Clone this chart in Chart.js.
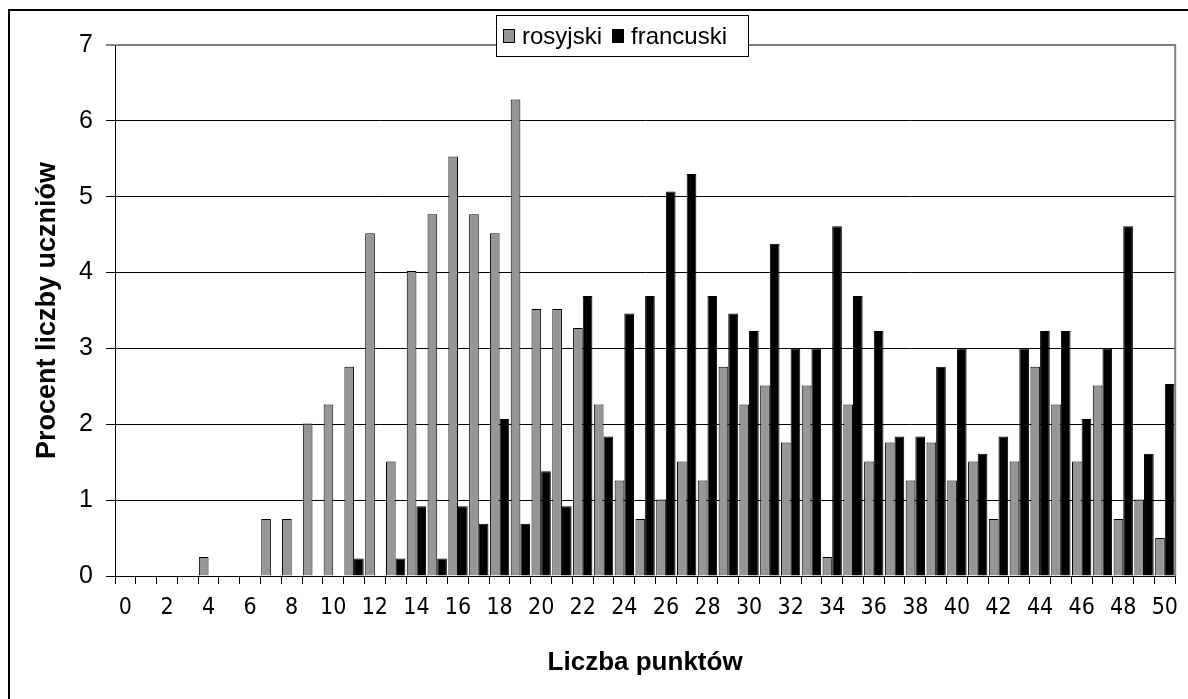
<!DOCTYPE html>
<html>
<head>
<meta charset="utf-8">
<script src="https://cdn.jsdelivr.net/npm/chart.js@4/dist/chart.umd.min.js"></script>
<style>
  html, body { margin: 0; padding: 0; background: #fff; }
  #wrap { width: 1188px; height: 699px; position: relative; }
</style>
</head>
<body>
<div id="wrap"><canvas id="chart" width="1188" height="699"></canvas></div>
<script>
"use strict";

// categories: liczba punktów 0..50
var points = [];
for (var p = 0; p <= 50; p++) points.push(String(p));

var seriesNames = ['rosyjski', 'francuski'];

var rosyjski = [0, 0, 0, 0, 0.25, 0, 0, 0.75, 0.75, 2.01,
  2.26, 2.76, 4.52, 1.51, 4.02, 4.77, 5.53, 4.77, 4.52, 6.28,
  3.52, 3.52, 3.27, 2.26, 1.26, 0.75, 1.01, 1.51, 1.26, 2.76,
  2.26, 2.51, 1.76, 2.51, 0.25, 2.26, 1.51, 1.76, 1.26, 1.76,
  1.26, 1.51, 0.75, 1.51, 2.76, 2.26, 1.51, 2.51, 0.75, 1.01,
  0.50];

var francuski = [0, 0, 0, 0, 0, 0, 0, 0, 0, 0,
  0, 0.23, 0, 0.23, 0.92, 0.23, 0.92, 0.69, 2.07, 0.69,
  1.38, 0.92, 3.69, 1.84, 3.46, 3.69, 5.07, 5.30, 3.69, 3.46,
  3.23, 4.38, 3.00, 3.00, 4.61, 3.69, 3.23, 1.84, 1.84, 2.76,
  3.00, 1.61, 1.84, 3.00, 3.23, 3.23, 2.07, 3.00, 4.61, 1.61,
  2.53];

var yTicks = [0, 1, 2, 3, 4, 5, 6, 7];

var colors = ['#969696', '#000000'];

// frame of the whole chart + grey right edge of plot area
var framePlugin = {
  id: 'frame',
  beforeDraw: function(chart) {
    var ctx = chart.ctx;
    ctx.save();
    ctx.fillStyle = '#fff';
    ctx.fillRect(0, 0, chart.width, chart.height);
    ctx.strokeStyle = '#000';
    ctx.lineWidth = 2;
    ctx.strokeRect(9, 10, chart.width + 20, chart.height + 20);
    ctx.restore();
  },
  afterDraw: function(chart) {
    var ctx = chart.ctx, a = chart.chartArea;
    ctx.save();
    ctx.strokeStyle = '#808080';
    ctx.lineWidth = 2;
    ctx.beginPath();
    ctx.moveTo(a.right, a.top - 1);
    ctx.lineTo(a.right, a.bottom);
    ctx.stroke();
    ctx.restore();
  }
};

// boxed legend laid over the top edge of the plot
var legendBox = {
  id: 'legendBox',
  afterDraw: function(chart) {
    var ctx = chart.ctx;
    var x0 = 496.5, y0 = 15.5, w = 252, h = 41;
    ctx.save();
    ctx.fillStyle = '#fff';
    ctx.fillRect(x0, y0, w, h);
    ctx.strokeStyle = '#000';
    ctx.lineWidth = 1;
    ctx.strokeRect(x0, y0, w, h);
    ctx.font = '24px "Liberation Sans", Arial, sans-serif';
    ctx.textBaseline = 'alphabetic';
    var x = 503;
    chart.data.datasets.forEach(function(ds) {
      ctx.fillStyle = ds.backgroundColor;
      ctx.fillRect(x + 0.5, 29.5, 11, 13);
      ctx.strokeStyle = '#000';
      ctx.strokeRect(x + 0.5, 29.5, 11, 13);
      ctx.fillStyle = '#000';
      ctx.fillText(ds.label, x + 19, 44);
      x += 19 + ctx.measureText(ds.label).width + 10;
    });
    ctx.restore();
  }
};

var ctx = document.getElementById('chart').getContext('2d');
new Chart(ctx, {
  type: 'bar',
  data: {
    labels: points,
    datasets: [{
      label: seriesNames[0],
      data: rosyjski,
      backgroundColor: colors[0],
      borderColor: '#000',
      borderWidth: 1,
      borderSkipped: 'bottom',
      categoryPercentage: 0.93,
      barPercentage: 1.0
    }, {
      label: seriesNames[1],
      data: francuski,
      backgroundColor: colors[1],
      borderColor: '#000',
      borderWidth: 1,
      borderSkipped: 'bottom',
      categoryPercentage: 0.93,
      barPercentage: 1.0
    }]
  },
  options: {
    responsive: false,
    animation: false,
    layout: { padding: { top: 45, right: 2, left: 0, bottom: 0 } },
    plugins: {
      legend: { display: false },
      tooltip: { enabled: false }
    },
    scales: {
      x: {
        grid: {
          display: true,
          drawOnChartArea: false,
          drawTicks: true,
          tickLength: 8,
          color: '#000',
          offset: true
        },
        border: { display: true, color: '#000', width: 1 },
        ticks: {
          autoSkip: false,
          maxRotation: 0,
          minRotation: 0,
          padding: 10,
          color: '#000',
          font: { family: '"Liberation Sans Narrow", "DejaVu Sans Condensed", sans-serif', size: 23 },
          callback: function(val, idx) { return idx % 2 === 0 ? points[idx] : ''; }
        },
        title: {
          display: true,
          text: 'Liczba punktów',
          color: '#000',
          font: { family: '"Liberation Sans", Arial, sans-serif', size: 26, weight: 'bold' },
          padding: { top: 0, bottom: 21 }
        },
        afterFit: function(scale) { scale.height = 123; }
      },
      y: {
        min: 0,
        max: 7,
        afterBuildTicks: function(scale) {
          scale.ticks = yTicks.map(function(v) { return { value: v }; });
        },
        grid: {
          color: function(c) { return c.tick && c.tick.value === 7 ? '#808080' : '#000'; },
          lineWidth: function(c) { return c.tick && c.tick.value === 7 ? 2 : 1; },
          tickLength: 9
        },
        border: { display: true, color: '#000', width: 1 },
        ticks: {
          padding: 13,
          color: '#000',
          font: { family: '"Liberation Sans", Arial, sans-serif', size: 25 }
        },
        title: {
          display: true,
          text: 'Procent liczby uczniów',
          color: '#000',
          font: { family: '"Liberation Sans", Arial, sans-serif', size: 27, weight: 'bold' },
          padding: { top: 31, bottom: 0 }
        },
        afterFit: function(scale) { scale.width = 115; }
      }
    }
  },
  plugins: [framePlugin, legendBox]
});
</script>
</body>
</html>
